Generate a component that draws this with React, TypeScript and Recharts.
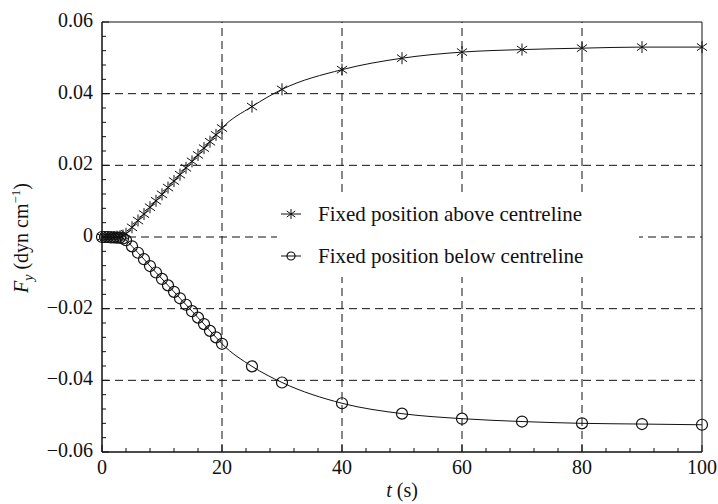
import React from "react";
import {
  ComposedChart,
  Line,
  XAxis,
  YAxis,
  ReferenceLine,
  ReferenceArea,
  Legend,
  Label,
} from "recharts";

// time (s) and the two force series (dyn/cm)
const TIME = [
  0, 0.5, 1, 1.5, 2, 2.5, 3, 3.5, 4, 5, 6, 7, 8, 9, 10, 11, 12, 13, 14, 15, 16,
  17, 18, 19, 20, 25, 30, 40, 50, 60, 70, 80, 90, 100,
];
const ABOVE = [
  0, 0, 0, 0, 0, 0.0001, 0.0002, 0.0004, 0.0009, 0.0027, 0.0046, 0.0064, 0.0083,
  0.0101, 0.0119, 0.0138, 0.0156, 0.0174, 0.0193, 0.0211, 0.0229, 0.0248,
  0.0266, 0.0285, 0.0304, 0.0364, 0.0412, 0.0467, 0.0499, 0.0516, 0.0523,
  0.0527, 0.053, 0.053,
];
const BELOW = [
  0, 0, 0, -0.0001, -0.0001, -0.0002, -0.0002, -0.0004, -0.0009, -0.0026,
  -0.0044, -0.0062, -0.0081, -0.0099, -0.0117, -0.0135, -0.0153, -0.0171,
  -0.0189, -0.0207, -0.0225, -0.0243, -0.0262, -0.028, -0.0298, -0.0361,
  -0.0406, -0.0464, -0.0493, -0.0507, -0.0515, -0.052, -0.0522, -0.0524,
];

const X_GRID = [20, 40, 60, 80];
const Y_GRID = [0.04, 0.02, 0, -0.02, -0.04];
// minor ticks every 4 s and every 0.004 dyn/cm, major every 20 s / 0.02
const X_TICKS = Array.from({ length: 26 }, (_, i) => i * 4);
const Y_TICKS = Array.from({ length: 31 }, (_, i) =>
  Math.round((-0.06 + i * 0.004) * 1000) / 1000
);

const SERIES = [
  { key: "above", name: "Fixed position above centreline", marker: "star" },
  { key: "below", name: "Fixed position below centreline", marker: "circle" },
];

const data = TIME.map((t, i) => ({ t, above: ABOVE[i], below: BELOW[i] }));

const FONT = "'Liberation Serif', 'Times New Roman', serif";
const INK = "#111";

function Star({ cx, cy, r = 6 }: { cx: number; cy: number; r?: number }) {
  const dx = r * 0.85;
  const dy = r * 0.6;
  return (
    <g stroke={INK} strokeWidth={1}>
      <line x1={cx} y1={cy - r} x2={cx} y2={cy + r} />
      <line x1={cx - dx} y1={cy - dy} x2={cx + dx} y2={cy + dy} />
      <line x1={cx - dx} y1={cy + dy} x2={cx + dx} y2={cy - dy} />
    </g>
  );
}

function Ring({ cx, cy, r = 5.5 }: { cx: number; cy: number; r?: number }) {
  return <circle cx={cx} cy={cy} r={r} fill="none" stroke={INK} strokeWidth={1.2} />;
}

const starDot = (p: any) => <Star key={p.index} cx={p.cx} cy={p.cy} />;
const ringDot = (p: any) => <Ring key={p.index} cx={p.cx} cy={p.cy} />;

function fmt(v: number) {
  if (Math.abs(v) < 1e-9) return "0";
  return (v < 0 ? "\u2212" : "") + Math.abs(v).toFixed(2);
}

function YTick(props: any) {
  const { x, y, payload } = props;
  const v = payload.value;
  const major = Math.abs(v * 50 - Math.round(v * 50)) < 1e-6;
  return (
    <g>
      <line x1={x} x2={x + (major ? 7 : 4)} y1={y} y2={y} stroke={INK} />
      {major && (
        <text x={x - 9} y={y + 5} textAnchor="end" fontFamily={FONT} fontSize={20} fill={INK}>
          {fmt(v)}
        </text>
      )}
    </g>
  );
}

function XTick(props: any) {
  const { x, y, payload } = props;
  const v = payload.value;
  const major = v % 20 === 0;
  return (
    <g>
      <line x1={x} x2={x} y1={y} y2={y - (major ? 7 : 4)} stroke={INK} />
      {major && (
        <text x={x} y={y + 22} textAnchor="middle" fontFamily={FONT} fontSize={20} fill={INK}>
          {v}
        </text>
      )}
    </g>
  );
}

function XTitle(props: any) {
  const { x, y, width } = props.viewBox;
  return (
    <text x={x + width / 2} y={y + 45} textAnchor="middle" fontFamily={FONT} fontSize={20} fill={INK}>
      <tspan fontStyle="italic">t</tspan> (s)
    </text>
  );
}

function YTitle() {
  const cx = 28;
  const cy = 238;
  return (
    <text
      x={cx}
      y={cy}
      transform={`rotate(-90, ${cx}, ${cy})`}
      textAnchor="middle"
      fontFamily={FONT}
      fontSize={20}
      fill={INK}
    >
      <tspan fontStyle="italic">F</tspan>
      <tspan fontStyle="italic" fontSize={14} dy={5}>y</tspan>
      <tspan dy={-5}> (dyn cm</tspan>
      <tspan fontSize={13} dy={-8}>{"\u22121"}</tspan>
      <tspan dy={8}>)</tspan>
    </text>
  );
}

function LegendBox() {
  return (
    <div style={{ background: "#fff", fontFamily: FONT, fontSize: 21, color: INK, padding: "0" }}>
      {SERIES.map((s) => (
        <div key={s.key} style={{ display: "flex", alignItems: "center", height: 42 }}>
          <svg width={40} height={20} style={{ marginRight: 1, flex: "none" }}>
            <line x1={4} x2={24} y1={10} y2={10} stroke={INK} />
            {s.marker === "star" ? <Star cx={14} cy={10} r={5} /> : <Ring cx={14} cy={10} r={4} />}
          </svg>
          <span>{s.name}</span>
        </div>
      ))}
    </div>
  );
}

export default function App() {
  return (
    <div style={{ position: "absolute", left: 0, top: 0, background: "#fff" }}>
      <ComposedChart
        width={718}
        height={504}
        data={data}
        margin={{ top: 22, right: 16, bottom: 22, left: 42 }}
      >
        {X_GRID.map((v) => (
          <ReferenceLine key={"x" + v} x={v} stroke={INK} strokeDasharray="8 5" />
        ))}
        {Y_GRID.map((v) => (
          <ReferenceLine key={"y" + v} y={v} stroke={INK} strokeDasharray="8 5" />
        ))}
        <XAxis
          dataKey="t"
          type="number"
          domain={[0, 100]}
          ticks={X_TICKS}
          interval={0}
          tickSize={0}
          tickMargin={0}
          tick={<XTick />}
          axisLine={{ stroke: INK }}
          height={30}
        >
          <Label content={<XTitle />} />
        </XAxis>
        <YAxis
          type="number"
          domain={[-0.06, 0.06]}
          ticks={Y_TICKS}
          interval={0}
          tickSize={0}
          tickMargin={0}
          tick={<YTick />}
          axisLine={{ stroke: INK }}
          width={60}
        >
          <Label content={<YTitle />} />
        </YAxis>
        <Line
          dataKey="above"
          type="monotone"
          stroke={INK}
          strokeWidth={1}
          dot={starDot}
          isAnimationActive={false}
        />
        <Line
          dataKey="below"
          type="monotone"
          stroke={INK}
          strokeWidth={1}
          dot={ringDot}
          isAnimationActive={false}
        />
        <ReferenceArea x1={0} x2={100} y1={-0.06} y2={0.06} fill="none" stroke={INK} />
        <Legend
          layout="vertical"
          align="center"
          verticalAlign="middle"
          content={<LegendBox />}
          wrapperStyle={{ left: 277, top: 193, width: 362 }}
        />
      </ComposedChart>
    </div>
  );
}
